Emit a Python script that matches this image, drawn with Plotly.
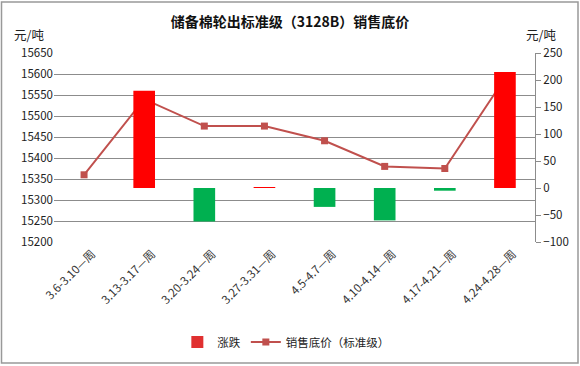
import plotly.graph_objects as go

categories = ["3.6-3.10—周", "3.13-3.17—周", "3.20-3.24—周", "3.27-3.31—周",
              "4.5-4.7—周", "4.10-4.14—周", "4.17-4.21—周", "4.24-4.28—周"]
change = [None, 180, -62, 1, -35, -60, -5, 215]
price = [15360, 15540, 15476, 15476, 15441, 15380, 15375, 15590]

bar_colors = ["#FF0000" if (v is not None and v >= 0) else "#00B050" for v in change]

FONT = "Noto Sans CJK SC, Microsoft YaHei, sans-serif"

fig = go.Figure()
fig.add_trace(go.Bar(x=categories, y=change, name="涨跌", yaxis="y2", showlegend=False,
                     marker=dict(color=bar_colors, line=dict(width=0))))
fig.add_trace(go.Bar(x=[categories[0]], y=[None], name="涨跌", yaxis="y2",
                     marker=dict(color="#E03030", line=dict(width=0))))
fig.add_trace(go.Scatter(x=categories, y=price, name="销售底价（标准级）", mode="lines+markers",
                         line=dict(color="#C0504D", width=2),
                         marker=dict(symbol="square", size=7, color="#C0504D")))

L, R, T, B = 54, 45, 53, 124
W, H = 580, 366
pw, ph = W - L - R, H - T - B

fig.update_layout(
    width=W, height=H,
    margin=dict(l=L, r=R, t=T, b=B, autoexpand=False),
    paper_bgcolor="white", plot_bgcolor="white",
    font=dict(family=FONT, size=11, color="#222"),
    bargap=0.64, barmode="overlay",
    title=dict(text="<b>储备棉轮出标准级（3128B）销售底价</b>", x=0.5, xanchor="center",
               y=1 - 22 / H, yanchor="middle", font=dict(size=14, color="#111")),
    xaxis=dict(type="category", tickangle=-45, showgrid=False, showline=False,
               ticks="", automargin=False, ticklabelshift=8, ticklabelstandoff=2,
               tickfont=dict(size=11.5, color="#333")),
    yaxis=dict(range=[15200, 15650], dtick=50, tickformat="d", showgrid=True, gridcolor="#8c8c8c",
               gridwidth=1, zeroline=False, showline=False, ticks="", automargin=False,
               tickfont=dict(size=11.5, color="#222")),
    yaxis2=dict(range=[-100, 250], dtick=50, tickformat="d", overlaying="y", side="right",
                showgrid=False, zeroline=False, showline=True, linecolor="#8c8c8c",
                ticks="outside", ticklen=5, tickcolor="#8c8c8c", automargin=False,
                tickfont=dict(size=11.5, color="#222")),
    legend=dict(orientation="h", x=0.482, xanchor="center", y=-(342 - 242) / ph, yanchor="middle",
                font=dict(size=11.5, color="#222")),
    showlegend=True,
    annotations=[
        dict(text="元/吨", xref="paper", yref="paper", x=(12 - L) / pw, y=1 + (53 - 35) / ph,
             xanchor="left", yanchor="middle", showarrow=False, font=dict(size=12.5, color="#222")),
        dict(text="元/吨", xref="paper", yref="paper", x=(558 - L) / pw, y=1 + (53 - 35) / ph,
             xanchor="right", yanchor="middle", showarrow=False, font=dict(size=12.5, color="#222")),
    ],
    shapes=[
        dict(type="rect", xref="paper", yref="paper",
             x0=(1.5 - L) / pw, x1=(578 - L) / pw,
             y0=-(363 - T - ph) / ph, y1=1 + (T - 2) / ph,
             line=dict(color="#999", width=1.5), fillcolor="rgba(0,0,0,0)", layer="below"),
    ],
)

fig.write_html("out.html", config={"displayModeBar": False},
               post_script="document.body.style.margin='0';document.body.style.padding='0';")
